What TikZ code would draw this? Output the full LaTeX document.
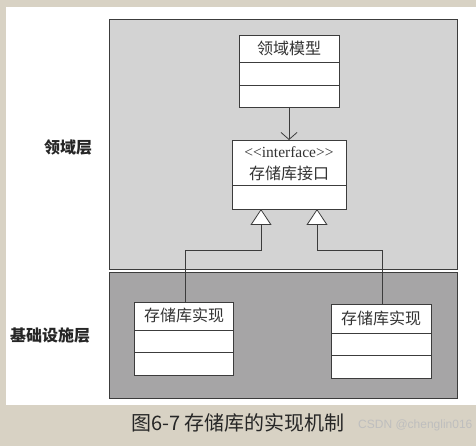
\documentclass[tikz,border=0pt]{standalone}
\usepackage{fontspec}
\setmainfont{Liberation Serif}
\newfontfamily\cjk{Noto Sans CJK SC}
\usetikzlibrary{arrows.meta}
\definecolor{beige}{RGB}{216,210,196}
\definecolor{lightpanel}{RGB}{211,211,211}
\definecolor{darkpanel}{RGB}{166,165,166}
\definecolor{edge}{RGB}{60,60,60}
\definecolor{wm}{RGB}{190,190,190}
\tikzset{
  panel/.style={draw=edge, line width=1pt},
  classbox/.style={draw=edge, fill=white, line width=0.8pt},
  divider/.style={draw=edge, line width=0.8pt},
  boxtext/.style={font=\cjk\fontsize{16}{18}\selectfont, text=black!80},
  layerlabel/.style={font=\cjk\fontsize{16}{18}\selectfont\bfseries, text=black!85},
  conn/.style={draw=edge, line width=0.8pt},
  realize/.style={conn, -{Triangle[open, length=16pt, width=21pt, fill=white]}},
  uses/.style={conn, -{Straight Barb[length=7pt, width=16pt]}}
}
\begin{document}
\begin{tikzpicture}[x=1pt, y=-1pt]
\useasboundingbox (0,0) rectangle (476,446);
\fill[beige] (0,0) rectangle (476,446);
\fill[white] (6,7) rectangle (476,405);
% panels
\filldraw[panel, fill=lightpanel] (109,20) rectangle (457,269);
\filldraw[panel, fill=darkpanel] (109,272) rectangle (457,398);
% layer labels
\node[layerlabel] (l1) at (68,147) {领域层};
\node[layerlabel] (l2) at (50,335) {基础设施层};
% domain model box
\filldraw[classbox] (239,35) rectangle (339,107);
\draw[divider] (239,62) -- (339,62);
\draw[divider] (239,85) -- (339,85);
\node[boxtext] (dm) at (289,48) {领域模型};
\coordinate (dmb) at (289,107);
% interface box
\filldraw[classbox] (232,140) rectangle (346,209);
\draw[divider] (232,185) -- (346,185);
\node[font=\fontsize{15.5}{17}\selectfont, text=black!80] (st) at (289,152.5) {{<}{<}interface{>}{>}};
\node[boxtext] (ri) at (289,173) {存储库接口};
\coordinate (rit) at (289,140);
\coordinate (ribl) at (261,209);
\coordinate (ribr) at (317,209);
% impl boxes
\filldraw[classbox] (134,302) rectangle (233,375);
\draw[divider] (134,330) -- (233,330);
\draw[divider] (134,352) -- (233,352);
\node[boxtext] (i1) at (184,315) {存储库实现};
\coordinate (i1t) at (185,302);
\filldraw[classbox] (331,304) rectangle (431,378);
\draw[divider] (331,333) -- (431,333);
\draw[divider] (331,355) -- (431,355);
\node[boxtext] (i2) at (381,318) {存储库实现};
\coordinate (i2t) at (382,304);
% connectors
\draw[uses] (dmb) -- (rit);
\draw[realize] (i1t) -- (185,250) -- (261,250) -- (ribl);
\draw[realize] (i2t) -- (382,250) -- (317,250) -- (ribr);
% caption
\node[font=\cjk\fontsize{20}{22}\selectfont, text=black!85, anchor=west, inner sep=0pt] (cap) at (131,423) {图6-7 存储库的实现机制};
\node[font=\fontspec{Liberation Sans}\fontsize{12}{14}\selectfont, text=wm, anchor=west, inner sep=0pt] (wmk) at (358,425) {CSDN @chenglin016};
\end{tikzpicture}
\end{document}
